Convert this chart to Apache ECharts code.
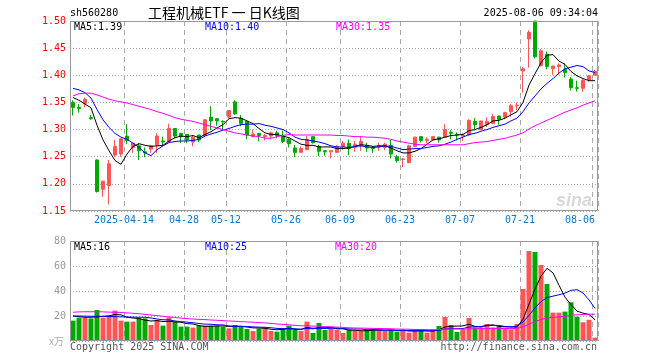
<!DOCTYPE html>
<html><head><meta charset="utf-8">
<script src="https://cdn.jsdelivr.net/npm/echarts@6/dist/echarts.min.js"></script>
<style>html,body{margin:0;padding:0;background:#fff}#c{width:660px;height:360px}</style>
</head><body><div id="c"></div>
<script>
const dates = [
'2025-03-31',
'2025-04-01','2025-04-02','2025-04-03',
'2025-04-07','2025-04-08','2025-04-09','2025-04-10','2025-04-11',
'2025-04-14','2025-04-15','2025-04-16','2025-04-17','2025-04-18',
'2025-04-21','2025-04-22','2025-04-23','2025-04-24','2025-04-25',
'2025-04-28','2025-04-29','2025-04-30',
'2025-05-06','2025-05-07','2025-05-08','2025-05-09',
'2025-05-12','2025-05-13','2025-05-14','2025-05-15','2025-05-16',
'2025-05-19','2025-05-20','2025-05-21','2025-05-22','2025-05-23',
'2025-05-26','2025-05-27','2025-05-28','2025-05-29','2025-05-30',
'2025-06-03','2025-06-04','2025-06-05','2025-06-06',
'2025-06-09','2025-06-10','2025-06-11','2025-06-12','2025-06-13',
'2025-06-16','2025-06-17','2025-06-18','2025-06-19','2025-06-20',
'2025-06-23','2025-06-24','2025-06-25','2025-06-26','2025-06-27',
'2025-06-30','2025-07-01','2025-07-02','2025-07-03','2025-07-04',
'2025-07-07','2025-07-08','2025-07-09','2025-07-10','2025-07-11',
'2025-07-14','2025-07-15','2025-07-16','2025-07-17','2025-07-18',
'2025-07-21','2025-07-22','2025-07-23','2025-07-24','2025-07-25',
'2025-07-28','2025-07-29','2025-07-30','2025-07-31','2025-08-01',
'2025-08-04','2025-08-05','2025-08-06'];

const tickDates  = ['2025-04-14','2025-04-28','2025-05-12','2025-05-26','2025-06-09','2025-06-23','2025-07-07','2025-07-21','2025-08-06'];
const tickLabels = ['2025-04-14','04-28','05-12','05-26','06-09','06-23','07-07','07-21','08-06'];

const openP = [1.350,1.341,1.348,1.322,1.244,1.190,1.197,1.253,1.255,1.288,
1.267,1.270,1.259,1.264,1.272,1.279,1.278,1.302,1.293,1.291,
1.277,1.290,1.289,1.323,1.320,1.315,1.323,1.351,1.321,1.315,
1.287,1.293,1.287,1.288,1.294,1.287,1.282,1.266,1.258,1.263,
1.287,1.269,1.261,1.259,1.258,1.269,1.275,1.267,1.270,1.270,
1.266,1.268,1.267,1.271,1.250,1.245,1.239,1.269,1.287,1.280,
1.281,1.286,1.286,1.295,1.291,1.288,1.290,1.315,1.300,1.309,
1.311,1.325,1.323,1.333,1.344,1.408,1.467,1.500,1.418,1.439,
1.412,1.416,1.411,1.393,1.377,1.376,1.391,1.400];
const closeP = [1.341,1.339,1.356,1.320,1.186,1.205,1.237,1.269,1.283,1.280,
1.275,1.261,1.257,1.270,1.288,1.277,1.302,1.288,1.287,1.281,
1.286,1.281,1.318,1.316,1.316,1.314,1.335,1.329,1.311,1.290,
1.292,1.289,1.289,1.294,1.289,1.278,1.274,1.258,1.265,1.282,
1.276,1.260,1.259,1.261,1.269,1.275,1.265,1.273,1.278,1.266,
1.265,1.270,1.273,1.255,1.243,1.246,1.270,1.286,1.280,1.282,
1.287,1.281,1.300,1.293,1.290,1.290,1.317,1.309,1.316,1.315,
1.324,1.319,1.331,1.344,1.345,1.412,1.479,1.434,1.445,1.416,
1.417,1.419,1.405,1.377,1.376,1.391,1.399,1.407];
const lowP = [1.326,1.331,1.341,1.318,1.184,1.176,1.162,1.250,1.250,1.273,
1.257,1.244,1.249,1.257,1.257,1.271,1.278,1.284,1.275,1.275,
1.269,1.277,1.287,1.299,1.307,1.299,1.320,1.327,1.306,1.282,
1.286,1.278,1.280,1.282,1.284,1.275,1.267,1.249,1.258,1.262,
1.274,1.251,1.252,1.247,1.257,1.263,1.253,1.259,1.261,1.259,
1.257,1.261,1.262,1.247,1.239,1.231,1.238,1.269,1.276,1.275,
1.280,1.276,1.286,1.282,1.280,1.279,1.288,1.300,1.299,1.305,
1.310,1.309,1.319,1.324,1.336,1.368,1.414,1.431,1.416,1.411,
1.401,1.401,1.396,1.372,1.370,1.370,1.388,1.400];
const highP = [1.354,1.347,1.359,1.327,1.245,1.205,1.244,1.281,1.284,1.310,
1.276,1.275,1.267,1.272,1.293,1.287,1.311,1.302,1.294,1.291,
1.290,1.290,1.319,1.343,1.321,1.317,1.335,1.354,1.327,1.315,
1.300,1.293,1.292,1.296,1.298,1.298,1.284,1.272,1.269,1.288,
1.287,1.272,1.262,1.261,1.271,1.279,1.282,1.279,1.286,1.276,
1.269,1.276,1.276,1.281,1.253,1.247,1.272,1.287,1.288,1.286,
1.288,1.287,1.310,1.299,1.295,1.293,1.319,1.321,1.316,1.323,
1.329,1.325,1.333,1.347,1.350,1.415,1.483,1.500,1.448,1.444,
1.417,1.422,1.422,1.397,1.390,1.393,1.400,1.410];

const priceMA5 = [1.359,1.354,1.347,1.340,1.308,1.281,1.261,1.243,1.236,1.255,
1.269,1.274,1.271,1.269,1.270,1.271,1.279,1.285,1.288,1.287,
1.289,1.285,1.291,1.296,1.303,1.309,1.320,1.322,1.321,1.316,
1.311,1.302,1.294,1.291,1.291,1.288,1.285,1.279,1.273,1.271,
1.271,1.268,1.268,1.268,1.265,1.265,1.266,1.269,1.272,1.271,
1.269,1.270,1.270,1.266,1.261,1.257,1.257,1.260,1.265,1.273,
1.281,1.283,1.286,1.289,1.290,1.291,1.298,1.300,1.304,1.309,
1.316,1.317,1.321,1.327,1.333,1.350,1.382,1.403,1.423,1.437,
1.438,1.426,1.420,1.407,1.399,1.394,1.390,1.390];
const priceMA10 = [1.376,1.373,1.368,1.358,1.337,1.318,1.304,1.293,1.286,1.282,
1.275,1.267,1.257,1.252,1.263,1.270,1.276,1.278,1.279,1.279,
1.280,1.282,1.288,1.292,1.295,1.299,1.302,1.306,1.309,1.310,
1.310,1.311,1.308,1.306,1.303,1.300,1.294,1.286,1.282,1.281,
1.279,1.277,1.274,1.270,1.268,1.268,1.267,1.269,1.270,1.268,
1.267,1.268,1.270,1.269,1.266,1.263,1.264,1.265,1.265,1.267,
1.269,1.270,1.273,1.277,1.282,1.286,1.291,1.293,1.297,1.300,
1.304,1.307,1.310,1.316,1.321,1.333,1.349,1.362,1.375,1.385,
1.394,1.404,1.412,1.415,1.418,1.416,1.408,1.405];
const priceMA30 = [1.362,1.366,1.367,1.367,1.364,1.360,1.356,1.353,1.351,1.349,
1.346,1.343,1.340,1.337,1.333,1.330,1.326,1.322,1.319,1.317,
1.315,1.312,1.309,1.306,1.303,1.300,1.297,1.294,1.292,1.290,
1.288,1.287,1.284,1.284,1.287,1.289,1.291,1.290,1.290,1.290,
1.290,1.290,1.290,1.290,1.289,1.289,1.288,1.287,1.287,1.286,
1.286,1.285,1.284,1.282,1.279,1.277,1.275,1.273,1.272,1.272,
1.272,1.272,1.272,1.272,1.272,1.272,1.274,1.276,1.277,1.278,
1.280,1.282,1.284,1.287,1.290,1.294,1.301,1.307,1.312,1.317,
1.322,1.327,1.332,1.336,1.340,1.345,1.349,1.353];

const volume = [16.3,18.7,18.7,18.1,24.8,18.7,20.3,24.3,16.3,15.5,
15.5,18.1,18.1,12.8,16.8,12.3,18.9,15.5,11.5,11.5,
10.7,12.3,12.3,12.3,12.3,11.5,10.1,12.8,12.0,9.6,
8.0,10.1,11.2,8.0,7.5,10.1,12.3,8.8,8.0,15.5,
6.4,14.4,8.8,10.1,9.1,6.4,9.1,8.5,8.0,8.8,
8.8,10.1,8.0,8.8,7.5,8.8,6.7,8.0,9.6,6.7,
8.3,12.0,19.2,12.8,7.2,9.3,18.4,10.9,10.9,13.6,
10.9,11.5,10.9,9.3,13.6,41.6,72.0,71.2,60.8,45.6,
22.7,22.7,23.5,31.0,19.5,15.0,17.0,2.7];
const volMA5 = [20.0,19.5,19.0,19.0,19.3,19.8,20.1,21.2,20.9,19.0,
18.4,17.9,16.7,16.0,16.3,15.6,15.8,15.3,15.0,13.9,
13.6,12.3,11.7,11.8,12.0,12.1,11.7,11.8,11.7,11.2,
10.5,10.5,10.2,9.4,9.0,9.4,9.8,9.3,9.3,10.9,
10.2,10.6,10.6,11.0,9.8,9.8,8.7,8.6,8.2,8.2,
8.6,8.8,8.7,8.9,8.6,8.6,8.0,8.0,8.1,8.0,
7.9,8.9,11.2,11.8,11.9,12.1,13.4,11.7,11.3,12.6,
12.9,11.6,11.6,11.2,11.2,17.4,29.5,41.5,51.8,58.2,
54.5,44.6,35.1,29.1,23.9,22.3,21.2,17.0];
const volMA10 = [20.0,20.0,19.9,19.8,19.8,19.7,19.6,19.5,19.3,19.2,
19.1,19.0,19.0,18.4,17.6,17.0,16.9,16.0,15.5,15.1,
14.6,14.0,13.5,13.4,13.0,12.9,12.0,11.7,11.8,11.6,
11.3,11.1,11.0,10.6,10.1,9.9,10.2,9.8,9.4,10.0,
9.8,10.2,10.0,10.2,10.4,10.0,9.7,9.6,9.6,9.0,
9.2,8.8,8.7,8.6,8.4,8.6,8.4,8.4,8.5,8.3,
8.3,8.4,9.6,10.0,9.9,10.0,11.2,11.4,11.6,12.3,
12.5,12.5,11.6,11.3,11.9,15.2,20.5,26.6,31.5,34.7,
35.9,37.0,38.3,40.5,41.1,38.4,32.9,26.1];
const volMA30 = [23.0,23.3,23.4,23.4,23.5,23.3,23.1,23.0,22.8,22.5,
22.2,21.8,21.3,20.8,20.3,19.8,19.3,18.8,18.3,17.9,
17.6,17.3,17.1,16.8,16.6,16.3,16.0,15.8,15.5,15.3,
15.0,14.7,14.5,14.1,13.6,13.3,13.0,12.5,12.2,12.2,
11.9,11.8,11.5,11.4,11.1,10.9,10.6,10.4,10.3,10.2,
10.1,10.0,9.9,9.8,9.6,9.5,9.4,9.2,9.2,9.1,
9.1,9.1,9.4,9.6,9.6,9.5,9.7,9.8,9.9,9.8,
10.0,9.9,10.0,9.9,10.1,11.3,13.4,15.5,17.2,18.4,
18.9,19.3,19.8,20.6,21.0,21.2,21.5,21.4];

const priceTicks = [1.15, 1.20, 1.25, 1.30, 1.35, 1.40, 1.45, 1.50];
const volTicks = [0, 20, 40, 60, 80];

// ---------- layout / style ----------
const UP = '#ff5555', DOWN = '#00a800';
const MONO = '"DejaVu Sans Mono", "Liberation Mono", monospace';
const G0 = {left: 70, top: 21, width: 528, height: 190};
const G1 = {left: 70, top: 241, width: 528, height: 100};

const kData = dates.map((d, i) => [openP[i], closeP[i], lowP[i], highP[i]]);
const volData = volume.map((v, i) => ({
  value: v,
  itemStyle: {color: closeP[i] >= openP[i] ? UP : DOWN}
}));
const tickSet = new Set(tickDates);

function xAxisCfg(gridIndex, showLabels) {
  return {
    type: 'category', gridIndex, data: dates, boundaryGap: true,
    axisLine: {show: false}, axisTick: {show: false},
    splitLine: {show: true, interval: (idx, val) => tickSet.has(dates[idx]),
      lineStyle: {color: '#aaaaaa', type: [5, 4], width: 1}},
    axisLabel: showLabels ? {
      show: true, interval: (idx, val) => tickSet.has(val), margin: 4,
      formatter: (val) => {
        const k = tickDates.indexOf(val);
        if (k < 0) return '';
        return (k === tickDates.length - 1 ? '{e|' : '{m|') + tickLabels[k] + '}';
      },
      rich: {
        m: {fontFamily: MONO, fontSize: 10, color: '#0a78d2', padding: [0, 6, 0, 0]},
        e: {fontFamily: MONO, fontSize: 10, color: '#0a78d2', padding: [0, 0, 0, 0]}
      },
      alignMaxLabel: 'right'
    } : {show: false}
  };
}

function lineSeries(data, color, xi, yi) {
  return {type: 'line', data, xAxisIndex: xi, yAxisIndex: yi, symbol: 'none',
    showSymbol: false, smooth: false, lineStyle: {color, width: 1}, z: 5, silent: true};
}

function txt(text, x, y, color, size, family, align) {
  return {type: 'text', x, y, z: 100, silent: true,
    style: {text, fill: color, font: size + 'px ' + family, align: align || 'left', verticalAlign: 'middle'}};
}

const chart = echarts.init(document.getElementById('c'), null, {renderer: 'canvas'});
chart.setOption({
  animation: false,
  backgroundColor: '#ffffff',
  grid: [
    Object.assign({containLabel: false}, G0),
    Object.assign({containLabel: false}, G1)
  ],
  xAxis: [xAxisCfg(0, true), xAxisCfg(1, false)],
  yAxis: [
    {type: 'value', gridIndex: 0, min: priceTicks[0], max: priceTicks[priceTicks.length - 1], interval: 0.05,
     axisLine: {show: false}, axisTick: {show: false},
     splitLine: {show: true, lineStyle: {color: '#aaaaaa', type: [1, 2], width: 1}},
     axisLabel: {color: '#ff0000', fontFamily: MONO, fontSize: 10, margin: 4,
       formatter: v => Number(v).toFixed(2)}},
    {type: 'value', gridIndex: 1, min: volTicks[0], max: volTicks[volTicks.length - 1], interval: 20,
     axisLine: {show: false}, axisTick: {show: false},
     splitLine: {show: true, lineStyle: {color: '#aaaaaa', type: [1, 2], width: 1}},
     axisLabel: {color: '#999999', fontFamily: MONO, fontSize: 10, margin: 4,
       formatter: v => (v === 0 ? '' : String(v))}}
  ],
  series: [
    {type: 'candlestick', data: kData, xAxisIndex: 0, yAxisIndex: 0, barWidth: 4, clip: true,
     itemStyle: {color: UP, color0: DOWN, borderColor: UP, borderColor0: DOWN, borderWidth: 1}, z: 3},
    lineSeries(priceMA5, '#000000', 0, 0),
    lineSeries(priceMA10, '#0000ff', 0, 0),
    lineSeries(priceMA30, '#ff00ff', 0, 0),
    {type: 'bar', data: volData, xAxisIndex: 1, yAxisIndex: 1, barWidth: 5, z: 3, silent: true},
    lineSeries(volMA5, '#000000', 1, 1),
    lineSeries(volMA10, '#0000ff', 1, 1),
    lineSeries(volMA30, '#ff00ff', 1, 1)
  ],
  graphic: [
    {type: 'text', x: 556, y: 201, z: 1, silent: true,
     style: {text: 'sina', fill: '#d8d8d8', font: 'italic bold 18px "Liberation Sans", Arial', align: 'left', verticalAlign: 'middle'}},
    {type: 'rect', z: 90, silent: true,
     shape: {x: G0.left + 0.5, y: G0.top + 0.5, width: G0.width - 1, height: G0.height - 1},
     style: {fill: null, stroke: '#999999', lineWidth: 1}},
    {type: 'rect', z: 90, silent: true,
     shape: {x: G1.left + 0.5, y: G1.top + 0.5, width: G1.width - 1, height: G1.height - 1},
     style: {fill: null, stroke: '#999999', lineWidth: 1}},
    txt('sh560280', 70, 13, '#000000', 10, MONO),
    txt('工程机械ETF 一 日K线图', 148, 13, '#000000', 14, '"Noto Sans CJK SC", sans-serif'),
    txt('2025-08-06 09:34:04', 598, 13, '#000000', 10, MONO, 'right'),
    txt('MA5:1.39', 74, 27, '#000000', 10, MONO),
    txt('MA10:1.40', 205, 27, '#0000ff', 10, MONO),
    txt('MA30:1.35', 336, 27, '#ff00ff', 10, MONO),
    txt('MA5:16', 74, 247, '#000000', 10, MONO),
    txt('MA10:25', 205, 247, '#0000ff', 10, MONO),
    txt('MA30:20', 335, 247, '#ff00ff', 10, MONO),
    txt('x万', 49, 341, '#aaaaaa', 10, '"Noto Sans CJK SC", sans-serif'),
    txt('Copyright 2025 SINA.COM', 70, 347, '#555555', 10, MONO),
    txt('http://finance.sina.com.cn', 597, 347, '#555555', 10, MONO, 'right')
  ]
});
</script></body></html>
